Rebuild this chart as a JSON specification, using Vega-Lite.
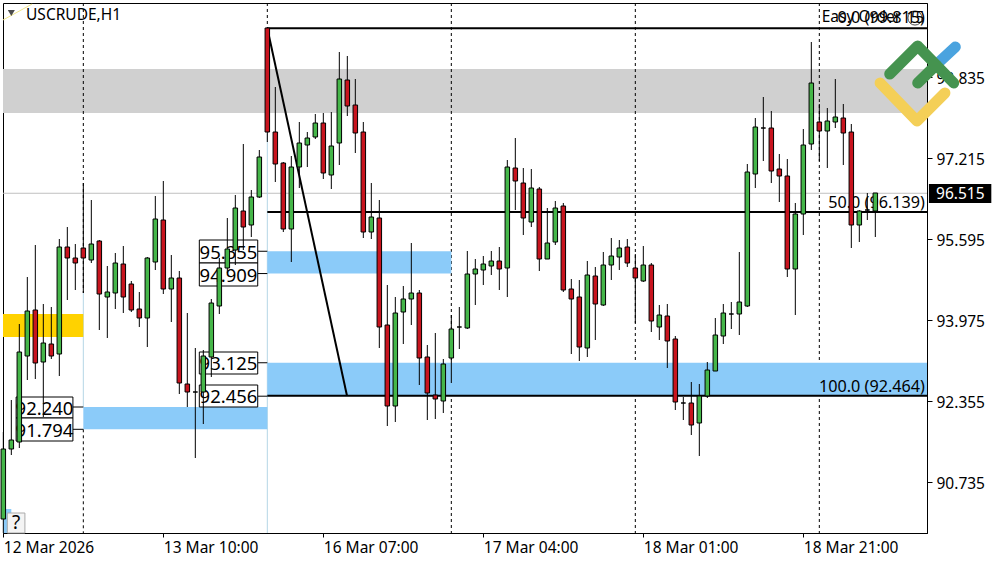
{"$schema":"https://vega.github.io/schema/vega-lite/v6.json","width":924,"height":530,"autosize":"none","padding":{"left":3,"top":3,"right":73,"bottom":29},"background":"white","config":{"view":{"stroke":"#000000","strokeWidth":1}},
"datasets":{
"candles":[
{"t":0,"o":90.00,"h":91.74,"l":89.72,"c":91.40,"d":"up"},{"t":1,"o":91.40,"h":92.38,"l":91.28,"c":91.58,"d":"up"},{"t":2,"o":91.54,"h":93.90,"l":91.42,"c":93.34,"d":"up"},{"t":3,"o":93.26,"h":94.84,"l":92.78,"c":94.16,"d":"up"},{"t":4,"o":94.18,"h":95.48,"l":92.80,"c":93.12,"d":"down"},{"t":5,"o":93.14,"h":94.30,"l":92.04,"c":93.52,"d":"up"},{"t":6,"o":93.50,"h":94.24,"l":93.20,"c":93.26,"d":"down"},{"t":7,"o":93.30,"h":95.60,"l":92.86,"c":95.44,"d":"up"},{"t":8,"o":95.44,"h":95.84,"l":94.38,"c":95.22,"d":"down"},{"t":9,"o":95.22,"h":95.50,"l":94.58,"c":95.12,"d":"down"},
{"t":10,"o":95.42,"h":96.72,"l":94.52,"c":95.22,"d":"down"},{"t":11,"o":95.18,"h":96.38,"l":95.12,"c":95.50,"d":"up"},{"t":12,"o":95.56,"h":95.58,"l":93.78,"c":94.50,"d":"down"},{"t":13,"o":94.44,"h":95.06,"l":93.62,"c":94.54,"d":"up"},{"t":14,"o":94.52,"h":95.32,"l":94.20,"c":95.12,"d":"up"},{"t":15,"o":95.10,"h":95.46,"l":94.12,"c":94.44,"d":"down"},{"t":16,"o":94.70,"h":94.76,"l":94.14,"c":94.18,"d":"down"},{"t":17,"o":94.20,"h":94.54,"l":93.84,"c":94.02,"d":"down"},{"t":18,"o":94.02,"h":95.24,"l":93.44,"c":95.22,"d":"up"},{"t":19,"o":95.14,"h":96.46,"l":94.98,"c":96.00,"d":"up"},
{"t":20,"o":95.98,"h":96.76,"l":94.50,"c":94.60,"d":"down"},{"t":21,"o":94.60,"h":95.28,"l":93.94,"c":94.82,"d":"up"},{"t":22,"o":94.82,"h":94.96,"l":92.50,"c":92.72,"d":"down"},{"t":23,"o":92.70,"h":94.12,"l":92.24,"c":92.54,"d":"down"},{"t":24,"o":92.54,"h":93.42,"l":91.22,"c":92.54,"d":"up"},{"t":25,"o":92.54,"h":93.38,"l":91.90,"c":93.26,"d":"up"},{"t":26,"o":93.24,"h":94.40,"l":92.84,"c":94.32,"d":"up"},{"t":27,"o":94.26,"h":95.22,"l":94.10,"c":95.02,"d":"up"},{"t":28,"o":95.02,"h":96.02,"l":94.92,"c":95.40,"d":"up"},{"t":29,"o":95.38,"h":96.48,"l":95.08,"c":96.22,"d":"up"},
{"t":30,"o":96.16,"h":97.50,"l":95.38,"c":95.84,"d":"down"},{"t":31,"o":95.88,"h":96.58,"l":95.64,"c":96.44,"d":"up"},{"t":32,"o":96.44,"h":97.38,"l":96.42,"c":97.24,"d":"up"},{"t":33,"o":99.82,"h":99.84,"l":97.54,"c":97.74,"d":"down"},{"t":34,"o":97.74,"h":98.64,"l":96.74,"c":97.10,"d":"down"},{"t":35,"o":97.12,"h":97.14,"l":95.74,"c":95.80,"d":"down"},{"t":36,"o":95.80,"h":97.26,"l":95.14,"c":97.04,"d":"up"},{"t":37,"o":97.04,"h":97.94,"l":96.62,"c":97.52,"d":"up"},{"t":38,"o":97.48,"h":97.74,"l":97.04,"c":97.62,"d":"up"},{"t":39,"o":97.64,"h":98.10,"l":97.60,"c":97.92,"d":"up"},
{"t":40,"o":97.92,"h":98.12,"l":96.80,"c":96.92,"d":"down"},{"t":41,"o":96.88,"h":98.14,"l":96.60,"c":97.46,"d":"up"},{"t":42,"o":97.52,"h":99.34,"l":97.08,"c":98.80,"d":"up"},{"t":43,"o":98.78,"h":99.26,"l":98.06,"c":98.26,"d":"down"},{"t":44,"o":98.28,"h":98.80,"l":97.32,"c":97.72,"d":"down"},{"t":45,"o":97.74,"h":97.94,"l":95.62,"c":95.74,"d":"down"},{"t":46,"o":95.74,"h":96.72,"l":95.60,"c":96.04,"d":"up"},{"t":47,"o":96.02,"h":96.38,"l":93.42,"c":93.84,"d":"down"},{"t":48,"o":93.88,"h":94.68,"l":91.86,"c":92.26,"d":"down"},{"t":49,"o":92.26,"h":94.44,"l":91.94,"c":94.12,"d":"up"},
{"t":50,"o":94.14,"h":94.66,"l":93.50,"c":94.40,"d":"up"},{"t":51,"o":94.40,"h":95.52,"l":93.88,"c":94.52,"d":"up"},{"t":52,"o":94.52,"h":94.58,"l":92.68,"c":93.22,"d":"down"},{"t":53,"o":93.24,"h":93.48,"l":91.98,"c":92.52,"d":"down"},{"t":54,"o":92.48,"h":93.72,"l":92.00,"c":92.40,"d":"down"},{"t":55,"o":92.36,"h":93.20,"l":92.12,"c":93.10,"d":"up"},{"t":56,"o":93.22,"h":94.08,"l":92.72,"c":93.80,"d":"up"},{"t":57,"o":93.84,"h":94.24,"l":93.40,"c":93.84,"d":"up"},{"t":58,"o":93.82,"h":95.36,"l":93.80,"c":94.90,"d":"up"},{"t":59,"o":94.90,"h":95.20,"l":94.28,"c":95.00,"d":"up"},
{"t":60,"o":94.98,"h":95.26,"l":94.68,"c":95.10,"d":"up"},{"t":61,"o":95.06,"h":95.36,"l":94.88,"c":95.16,"d":"up"},{"t":62,"o":95.16,"h":95.44,"l":94.58,"c":95.00,"d":"down"},{"t":63,"o":95.02,"h":97.18,"l":94.44,"c":97.04,"d":"up"},{"t":64,"o":97.02,"h":97.62,"l":96.18,"c":96.76,"d":"down"},{"t":65,"o":96.72,"h":97.02,"l":95.68,"c":96.02,"d":"down"},{"t":66,"o":95.94,"h":97.00,"l":95.84,"c":96.62,"d":"up"},{"t":67,"o":96.60,"h":96.64,"l":94.96,"c":95.20,"d":"down"},{"t":68,"o":95.20,"h":96.22,"l":95.20,"c":95.52,"d":"up"},{"t":69,"o":95.54,"h":96.36,"l":95.48,"c":96.22,"d":"up"},
{"t":70,"o":96.26,"h":96.32,"l":94.54,"c":94.58,"d":"down"},{"t":71,"o":94.60,"h":94.80,"l":93.30,"c":94.40,"d":"down"},{"t":72,"o":94.44,"h":94.78,"l":93.16,"c":93.44,"d":"down"},{"t":73,"o":93.42,"h":95.16,"l":93.24,"c":94.88,"d":"up"},{"t":74,"o":94.86,"h":95.04,"l":93.58,"c":94.30,"d":"down"},{"t":75,"o":94.28,"h":95.34,"l":94.26,"c":95.08,"d":"up"},{"t":76,"o":95.08,"h":95.62,"l":94.78,"c":95.26,"d":"up"},{"t":77,"o":95.24,"h":95.58,"l":94.98,"c":95.42,"d":"up"},{"t":78,"o":95.44,"h":95.60,"l":95.04,"c":95.12,"d":"down"},{"t":79,"o":95.02,"h":95.30,"l":93.92,"c":94.82,"d":"down"},
{"t":80,"o":94.76,"h":95.46,"l":94.74,"c":95.08,"d":"up"},{"t":81,"o":95.08,"h":95.12,"l":93.74,"c":93.96,"d":"down"},{"t":82,"o":93.84,"h":94.28,"l":93.58,"c":94.08,"d":"up"},{"t":83,"o":94.06,"h":94.30,"l":93.02,"c":93.56,"d":"down"},{"t":84,"o":93.60,"h":93.66,"l":92.18,"c":92.34,"d":"down"},{"t":85,"o":92.32,"h":92.44,"l":91.98,"c":92.32,"d":"up"},{"t":86,"o":92.32,"h":92.74,"l":91.68,"c":91.88,"d":"down"},{"t":87,"o":91.92,"h":92.70,"l":91.26,"c":92.46,"d":"up"},{"t":88,"o":92.46,"h":93.14,"l":92.42,"c":92.98,"d":"up"},{"t":89,"o":92.96,"h":94.02,"l":92.96,"c":93.68,"d":"up"},
{"t":90,"o":93.66,"h":94.30,"l":93.50,"c":94.12,"d":"up"},{"t":91,"o":94.10,"h":94.34,"l":93.80,"c":94.10,"d":"up"},{"t":92,"o":94.10,"h":95.34,"l":93.68,"c":94.34,"d":"up"},{"t":93,"o":94.26,"h":97.10,"l":94.24,"c":96.94,"d":"up"},{"t":94,"o":96.90,"h":98.02,"l":96.62,"c":97.84,"d":"up"},{"t":95,"o":97.82,"h":98.44,"l":97.16,"c":97.82,"d":"up"},{"t":96,"o":97.82,"h":98.16,"l":96.72,"c":96.96,"d":"down"},{"t":97,"o":97.00,"h":97.30,"l":96.34,"c":96.86,"d":"down"},{"t":98,"o":96.86,"h":97.20,"l":94.84,"c":95.00,"d":"down"},{"t":99,"o":95.00,"h":96.32,"l":94.08,"c":96.10,"d":"up"},
{"t":100,"o":96.10,"h":97.80,"l":95.68,"c":97.48,"d":"up"},{"t":101,"o":97.50,"h":99.54,"l":97.38,"c":98.72,"d":"up"},{"t":102,"o":97.94,"h":98.30,"l":97.16,"c":97.76,"d":"down"},{"t":103,"o":97.76,"h":98.22,"l":97.02,"c":97.96,"d":"up"},{"t":104,"o":97.94,"h":98.80,"l":97.82,"c":98.04,"d":"up"},{"t":105,"o":98.02,"h":98.30,"l":97.08,"c":97.72,"d":"down"},{"t":106,"o":97.74,"h":97.90,"l":95.42,"c":95.88,"d":"down"},{"t":107,"o":95.88,"h":96.18,"l":95.54,"c":96.16,"d":"up"},{"t":108,"o":96.18,"h":96.52,"l":95.98,"c":96.18,"d":"up"},{"t":109,"o":96.16,"h":96.52,"l":95.64,"c":96.52,"d":"up"}
],
"grayZone":[{"t":-0.04,"t2":115.46,"p":99.0,"p2":98.12,"k":"gray"}],
"zones":[{"t":-0.04,"t2":10,"p":94.1,"p2":93.64,"k":"yellow"},{"t":10,"t2":33,"p":92.24,"p2":91.794,"k":"blue"},{"t":33,"t2":56,"p":95.355,"p2":94.909,"k":"blue"},{"t":33,"t2":115.46,"p":93.125,"p2":92.456,"k":"blue"},{"t":-0.04,"t2":1,"p":90.2,"p2":89.72,"k":"blue"}],
"dashes":[{"t":10,"p":100.32,"p2":94.52},{"t":10,"p":91.794,"p2":89.72},{"t":33,"p":100.32,"p2":99.815},{"t":56,"p":100.32,"p2":89.72},{"t":79,"p":100.32,"p2":89.72},{"t":102,"p":100.32,"p2":89.72}],
"thin":[{"t":10,"p":94.52,"p2":92.24},{"t":33,"p":97.7,"p2":89.72}],
"price":[{"t":-0.04,"t2":115.46,"p":96.515}],
"fib":[{"t":33,"t2":115.46,"p":99.815},{"t":33,"t2":115.46,"p":96.139},{"t":33,"t2":115.46,"p":92.464}],
"diag":[{"t":33,"p":99.815},{"t":42.96,"p":92.464}],
"boxes":[{"t":24.5,"t2":31.8,"p":95.58,"p2":95.12,"m":28.15,"v":95.32,"label":"95.355"},{"t":24.5,"t2":31.8,"p":95.12,"p2":94.66,"m":28.15,"v":94.87,"label":"94.909"},{"t":24.5,"t2":31.8,"p":93.34,"p2":92.9,"m":28.15,"v":93.1,"label":"93.125"},{"t":24.5,"t2":31.8,"p":92.68,"p2":92.24,"m":28.15,"v":92.44,"label":"92.456"},{"t":1.6,"t2":8.7,"p":92.44,"p2":92.02,"m":5.15,"v":92.21,"label":"92.240"},{"t":1.6,"t2":8.7,"p":92.02,"p2":91.56,"m":5.15,"v":91.77,"label":"91.794"}],
"ticks":[{"t":8.7,"t2":10,"p":92.24},{"t":8.7,"t2":10,"p":91.794},{"t":31.8,"t2":33,"p":95.355},{"t":31.8,"t2":33,"p":94.909},{"t":31.8,"t2":33,"p":93.125},{"t":31.8,"t2":33,"p":92.456}],
"levels":[{"t":115.2,"p":100.02,"label":"0.0 (99.815)"},{"t":115.2,"p":96.32,"label":"50.0 (96.139)"},{"t":115.2,"p":92.64,"label":"100.0 (92.464)"}],
"heads":[{"t":2.84,"p":100.08,"label":"USCRUDE,H1"},{"t":102.3,"p":100.04,"label":"Easy Order"},{"t":112.9,"p":100.02,"label":"15"}],
"tag":[{"t":115.7,"t2":123.5,"p":96.70,"p2":96.32}],
"tagText":[{"t":116.6,"p":96.505,"label":"96.515"}],
"helpBox":[{"t":0.5,"t2":2.7,"p":90.12,"p2":89.72}],
"helpText":[{"t":1.6,"p":89.92,"label":"?"}],
"tri":[{"t":1,"p":100.12}],
"circle":[{"t":113.96,"p":100.02}],
"corner":[{"t":-0.04,"p":99.98,"part":"a"},{"t":3.6,"p":100.3,"part":"a"}],
"logo":[{"part":"blue","k":"lb","s":1,"t":116.3,"p":99.04},{"part":"blue","k":"lb","s":2,"t":119.0,"p":99.44},{"part":"yellow","k":"ly","s":1,"t":109.6,"p":98.72},{"part":"yellow","k":"ly","s":2,"t":114.2,"p":97.96},{"part":"yellow","k":"ly","s":3,"t":117.7,"p":98.52},{"part":"g2","k":"lg","s":1,"t":114.3,"p":98.72},{"part":"g2","k":"lg","s":2,"t":116.6,"p":99.08},{"part":"g1","k":"lg","s":1,"t":110.8,"p":98.90},{"part":"g1","k":"lg","s":2,"t":114.3,"p":99.46},{"part":"g1","k":"lg","s":3,"t":118.8,"p":98.72}]
},
"encoding":{
"x":{"field":"t","type":"quantitative","title":null,"scale":{"domain":[-0.04,115.46],"nice":false,"zero":false,"padding":0},"axis":{"values":[0,20,40,60,80,100],"labelExpr":"{'0':'12 Mar 2026','20':'13 Mar 10:00','40':'16 Mar 07:00','60':'17 Mar 04:00','80':'18 Mar 01:00','100':'18 Mar 21:00'}[datum.value]","labelAlign":"left","labelFont":"Noto Sans","labelFontSize":15.5,"labelColor":"#000000","labelPadding":3,"labelOverlap":false,"labelFlush":false,"labelBound":false,"tickColor":"#000000","tickSize":4,"domainColor":"#000000","grid":false,"title":null}},
"y":{"field":"p","type":"quantitative","title":null,"scale":{"domain":[89.72,100.32],"nice":false,"zero":false},"axis":{"orient":"right","values":[98.835,97.215,95.595,93.975,92.355,90.735],"format":".3f","labelFont":"Noto Sans","labelFontSize":15.5,"labelColor":"#000000","labelPadding":4,"labelOffset":1,"labelOverlap":false,"labelBound":false,"labelFlush":false,"tickColor":"#000000","tickSize":5,"domainColor":"#000000","grid":false,"title":null}},
"color":{"field":"k","type":"nominal","legend":null,"scale":{"domain":["gray","yellow","blue","up","down","lg","lb","ly"],"range":["#d0d0d0","#ffd200","#8bcbf9","#45b649","#c8141e","#45934f","#4aa3df","#f4cf57"]}}
},
"layer":[
{"data":{"name":"grayZone"},"mark":{"type":"rect"},"encoding":{"x2":{"field":"t2"},"y2":{"field":"p2"}}},
{"data":{"name":"price"},"mark":{"type":"rule","color":"#c0c0c0","strokeWidth":1},"encoding":{"x2":{"field":"t2"},"color":{"value":"#c0c0c0"}}},
{"data":{"name":"dashes"},"mark":{"type":"rule","strokeDash":[3,3],"strokeWidth":1},"encoding":{"y2":{"field":"p2"},"color":{"value":"#000000"}}},
{"data":{"name":"thin"},"mark":{"type":"rule","strokeWidth":1},"encoding":{"y2":{"field":"p2"},"color":{"value":"#b5d6e6"}}},
{"data":{"name":"zones"},"mark":{"type":"rect"},"encoding":{"x2":{"field":"t2"},"y2":{"field":"p2"}}},
{"data":{"name":"corner"},"mark":{"type":"line","strokeWidth":1,"clip":true},"encoding":{"color":{"value":"#f0e58a"}}},
{"data":{"name":"fib"},"mark":{"type":"rule","strokeWidth":2},"encoding":{"x2":{"field":"t2"},"color":{"value":"#000000"}}},
{"data":{"name":"diag"},"mark":{"type":"line","strokeWidth":2},"encoding":{"color":{"value":"#000000"}}},
{"data":{"name":"ticks"},"mark":{"type":"rule","strokeWidth":1},"encoding":{"x2":{"field":"t2"},"color":{"value":"#000000"}}},
{"data":{"name":"levels"},"mark":{"type":"text","align":"right","baseline":"middle","font":"Noto Sans","fontSize":16.2},"encoding":{"text":{"field":"label"},"color":{"value":"#000000"}}},
{"data":{"name":"boxes"},"mark":{"type":"rect","stroke":"#000000","strokeWidth":1},"encoding":{"x2":{"field":"t2"},"y2":{"field":"p2"},"color":{"value":"#ffffff"}}},
{"data":{"name":"boxes"},"mark":{"type":"text","align":"center","baseline":"middle","font":"Noto Sans","fontSize":18.5},"encoding":{"x":{"field":"m","type":"quantitative","title":null},"y":{"field":"v","type":"quantitative","title":null},"text":{"field":"label"},"color":{"value":"#000000"}}},
{"data":{"name":"candles"},"mark":{"type":"rule","strokeWidth":1},"encoding":{"y":{"field":"l","type":"quantitative","title":null},"y2":{"field":"h"},"color":{"value":"#000000"}}},
{"data":{"name":"candles"},"mark":{"type":"bar","size":4.5,"stroke":"#000000","strokeWidth":1},"encoding":{"y":{"field":"o","type":"quantitative","title":null},"y2":{"field":"c"},"color":{"field":"d","type":"nominal","legend":null}}},
{"data":{"name":"heads"},"mark":{"type":"text","align":"left","baseline":"middle","font":"Noto Sans","fontSize":15.5},"encoding":{"text":{"field":"label"},"color":{"value":"#000000"}}},
{"data":{"name":"circle"},"mark":{"type":"point","shape":"circle","filled":false,"size":200,"strokeWidth":1},"encoding":{"color":{"value":"#000000"}}},
{"data":{"name":"tri"},"mark":{"type":"point","shape":"triangle-down","filled":true,"size":50},"encoding":{"color":{"value":"#000000"}}},
{"data":{"name":"helpBox"},"mark":{"type":"rect","stroke":"#aaaaaa","strokeWidth":1},"encoding":{"x2":{"field":"t2"},"y2":{"field":"p2"},"color":{"value":"#f4f4f4"}}},
{"data":{"name":"helpText"},"mark":{"type":"text","align":"center","baseline":"middle","font":"Noto Sans","fontSize":19},"encoding":{"text":{"field":"label"},"color":{"value":"#000000"}}},
{"data":{"name":"tag"},"mark":{"type":"rect"},"encoding":{"x2":{"field":"t2"},"y2":{"field":"p2"},"color":{"value":"#000000"}}},
{"data":{"name":"tagText"},"mark":{"type":"text","align":"left","baseline":"middle","font":"Noto Sans","fontSize":15.5},"encoding":{"text":{"field":"label"},"color":{"value":"#ffffff"}}},
{"data":{"name":"logo"},"mark":{"type":"line","strokeWidth":11,"strokeCap":"round","strokeJoin":"round"},"encoding":{"detail":{"field":"part"},"order":{"field":"s"}}}
]}
